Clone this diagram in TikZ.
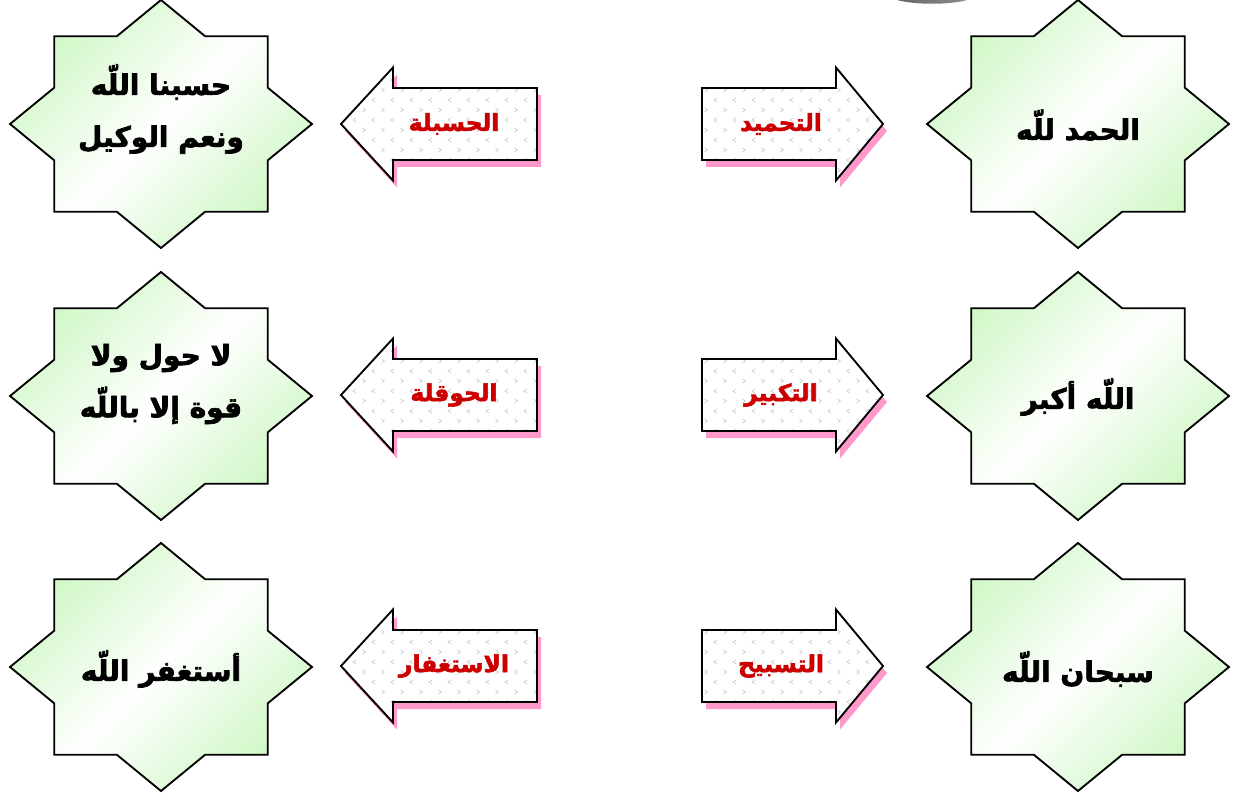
\documentclass[tikz,border=0pt]{standalone}
\usepackage{fontspec}
\usetikzlibrary{calc}
\newfontfamily\arabicfont[Script=Arabic, BoldFeatures={FakeBold=2.5}]{DejaVu Sans}
\TeXXeTstate=1
\definecolor{stargreen}{RGB}{208,247,198}
\definecolor{shadowpink}{RGB}{255,153,204}
\definecolor{textred}{RGB}{204,0,0}
\definecolor{patgray}{RGB}{200,200,200}
\tikzset{
  starshape/.style={draw=black, line width=1.4pt, line join=miter, top color=stargreen, bottom color=stargreen, middle color=white, shading angle=45},
  startext/.style={font=\arabicfont\bfseries\fontsize{21}{39}\selectfont, align=center, text=black, inner sep=0pt},
  arrowtext/.style={font=\arabicfont\bfseries\fontsize{17.5}{20}\selectfont, text=textred, inner sep=0pt},
  arrowline/.style={draw=black, line width=1.4pt, line join=miter},
  arrowshadow/.style={fill=shadowpink},
  chev/.style={draw=patgray, line width=0.5pt},
}
\newcommand{\eightstar}[5]{% name, cx, cy, text, text dy
  \begin{scope}[shift={(#2,#3)}]
    \path[starshape] (0,-124) -- (44.2,-87.7) -- (106.8,-87.7) -- (106.8,-36.3) -- (151,0) -- (106.8,36.3) -- (106.8,87.7) -- (44.2,87.7) -- (0,124) -- (-44.2,87.7) -- (-106.8,87.7) -- (-106.8,36.3) -- (-151,0) -- (-106.8,-36.3) -- (-106.8,-87.7) -- (-44.2,-87.7) -- cycle;
    \node[startext] (#1) at (0,#5) {#4};
  \end{scope}}
\newcommand{\chevrons}{%
  \foreach \r in {0,...,11}{
    \foreach \c in {0,...,11}{
      \pgfmathsetmacro\px{\c*19+mod(\r,2)*9.5+4}
      \pgfmathsetmacro\py{\r*10-54}
      \pgfmathsetmacro\xa{\px-1.5*(1-2*mod(\r,2))}
      \pgfmathsetmacro\xb{\px+1.5*(1-2*mod(\r,2))}
      \draw[chev] (\xa,\py-2) -- (\xb,\py) -- (\xa,\py+2);
    }}}
\newcommand{\rightarrowshape}[4]{% name, left x, cy, text
  \begin{scope}[shift={(#2,#3)}]
    \fill[arrowshadow] (4,-29) -- (138,-29) -- (138,-49.5) -- (185,7) -- (138,63.5) -- (138,43) -- (4,43) -- cycle;
    \fill[white] (0,-36) -- (134,-36) -- (134,-56.5) -- (181,0) -- (134,56.5) -- (134,36) -- (0,36) -- cycle;
    \begin{scope}
      \clip (0,-36) -- (134,-36) -- (134,-56.5) -- (181,0) -- (134,56.5) -- (134,36) -- (0,36) -- cycle;
      \chevrons
    \end{scope}
    \path[arrowline] (0,-36) -- (134,-36) -- (134,-56.5) -- (181,0) -- (134,56.5) -- (134,36) -- (0,36) -- cycle;
    \node[arrowtext] (#1) at (79,0) {\beginR #4\endR};
  \end{scope}}
\newcommand{\leftarrowshape}[4]{% name, tip x, cy, text
  \begin{scope}[shift={(#2,#3)}]
    \fill[arrowshadow] (4,7) -- (56,-49.5) -- (56,-29) -- (200,-29) -- (200,43) -- (56,43) -- (56,63.5) -- cycle;
    \fill[white] (0,0) -- (52,-56.5) -- (52,-36) -- (196,-36) -- (196,36) -- (52,36) -- (52,56.5) -- cycle;
    \begin{scope}
      \clip (0,0) -- (52,-56.5) -- (52,-36) -- (196,-36) -- (196,36) -- (52,36) -- (52,56.5) -- cycle;
      \chevrons
    \end{scope}
    \path[arrowline] (0,0) -- (52,-56.5) -- (52,-36) -- (196,-36) -- (196,36) -- (52,36) -- (52,56.5) -- cycle;
    \node[arrowtext] (#1) at (113,0) {\beginR #4\endR};
  \end{scope}}
\begin{document}
\begin{tikzpicture}[x=0.75pt, y=-0.75pt]
  \useasboundingbox (0,0) rectangle (1233,795);
  \shade[left color=black!60, middle color=black, right color=black!45] (897,0) .. controls (915,5) and (950,5) .. (967,0) -- cycle;
  % stars right column
  \eightstar{s1}{1078}{124}{\beginR الحمد للّه\endR}{1}
  \eightstar{s2}{1078}{396}{\beginR اللّه أكبر\endR}{1}
  \eightstar{s3}{1078}{667}{\beginR سبحان اللّه\endR}{2}
  % stars left column
  \eightstar{s4}{161}{124}{\beginR حسبنا اللّه\endR\\\beginR ونعم الوكيل\endR}{-15}
  \eightstar{s5}{161}{396}{\beginR لا حول ولا\endR\\\beginR قوة إلا باللّه\endR}{-12}
  \eightstar{s6}{161}{667}{\beginR أستغفر اللّه\endR}{2}
  % arrows
  \rightarrowshape{a1}{702}{124}{التحميد}
  \rightarrowshape{a2}{702}{395}{التكبير}
  \rightarrowshape{a3}{702}{666}{التسبيح}
  \leftarrowshape{a4}{341}{124}{الحسبلة}
  \leftarrowshape{a5}{341}{395}{الحوقلة}
  \leftarrowshape{a6}{341}{666}{الاستغفار}
\end{tikzpicture}
\end{document}
